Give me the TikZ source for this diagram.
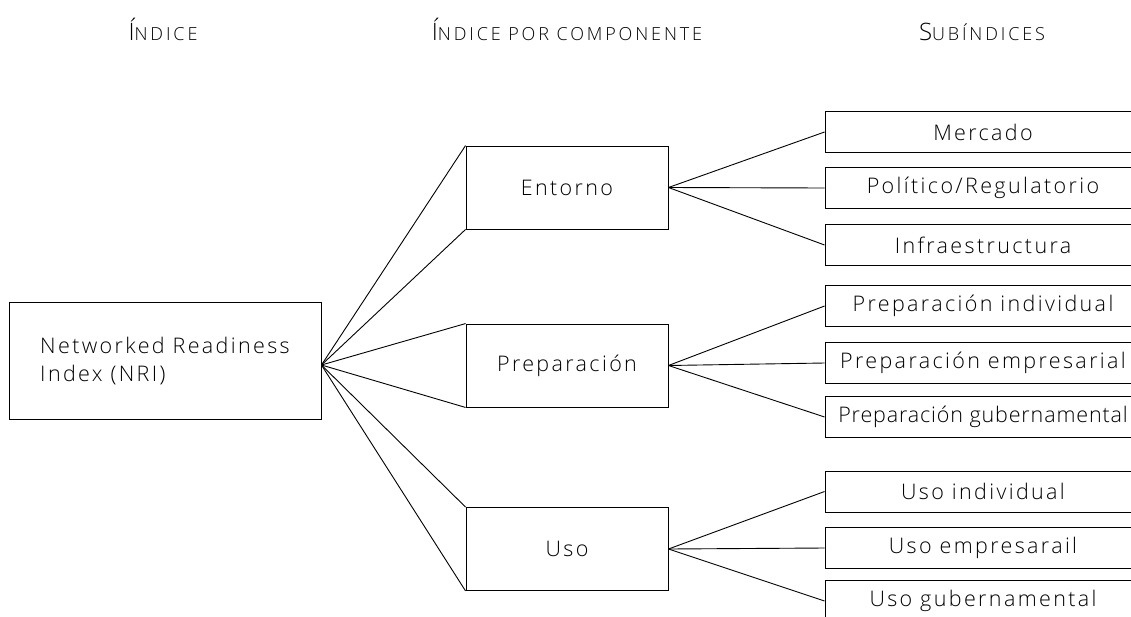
\documentclass[tikz,border=0pt]{standalone}
\usepackage{fontspec}
\setmainfont{Open Sans Light}
\newfontfamily\wide{Open Sans Light}[LetterSpace=11]
\newfontfamily\snug{Open Sans Light}[LetterSpace=4]
\newfontfamily\hdrfont{Open Sans Light}[LetterSpace=16]
\newcommand{\hdr}[2]{{\fontsize{24}{28}\selectfont #1}{\fontsize{18}{22}\selectfont #2}}
\begin{document}
\begin{tikzpicture}[x=1pt,y=-1pt,
  every node/.style={inner sep=0pt},
  txt/.style={font=\wide\fontsize{21.5}{26}\selectfont},
  box/.style={txt, draw, line width=0.9pt, minimum width=202pt, minimum height=83pt},
  subbox/.style={txt, draw, line width=0.9pt, minimum width=316pt, minimum height=41pt},
  link/.style={line width=0.9pt},
  header/.style={anchor=base, font=\hdrfont}]
\useasboundingbox (0,0) rectangle (1131,616);
\clip (0,0) rectangle (1131,616);
% headers
\node[header] (h1) at (163,40) {\hdr{Í}{NDICE}};
\node[header] (h2) at (567,40) {\hdr{Í}{NDICE POR COMPONENTE}};
\node[header] (h3) at (982,40) {\hdr{S}{UBÍNDICES}};
% main box
\node[txt, draw, line width=0.9pt, minimum width=312pt, minimum height=117pt, align=left] (nri) at (165,361) {Networked Readiness\\[2pt]Index (NRI)};
\coordinate (apex) at ([yshift=-4pt]nri.east);
% component boxes
\node[box] (ent) at (567,187.5) {Entorno};
\node[box] (pre) at (567,365.5) {Preparación};
\node[box] (uso) at (567,549) {Uso};
% sub boxes
\node[subbox] (s1) at (983,132) {Mercado};
\node[subbox] (s2) at (983,188) {Político/Regulatorio};
\node[subbox] (s3) at (983,245) {Infraestructura};
\node[subbox] (s4) at (983,306) {Preparación individual};
\node[subbox] (s5) at (983,363) {Preparación empresarial};
\node[subbox, font=\snug\fontsize{21.5}{26}\selectfont] (s6) at (983,417) {Preparación gubernamental};
\node[subbox] (s7) at (983,491.5) {Uso individual};
\node[subbox] (s8) at (983,548) {Uso empresarail};
\node[subbox] (s9) at (983,601) {Uso gubernamental};
% links from NRI
\foreach \c in {ent,pre,uso} {
  \draw[link] (apex) -- (\c.north west);
  \draw[link] (apex) -- (\c.south west);
}
% links to subs
\foreach \c/\s in {ent/s1,ent/s2,ent/s3,pre/s4,pre/s5,pre/s6,uso/s7,uso/s8,uso/s9} {
  \draw[link] (\c.east) -- (\s.west);
}
\end{tikzpicture}
\end{document}
